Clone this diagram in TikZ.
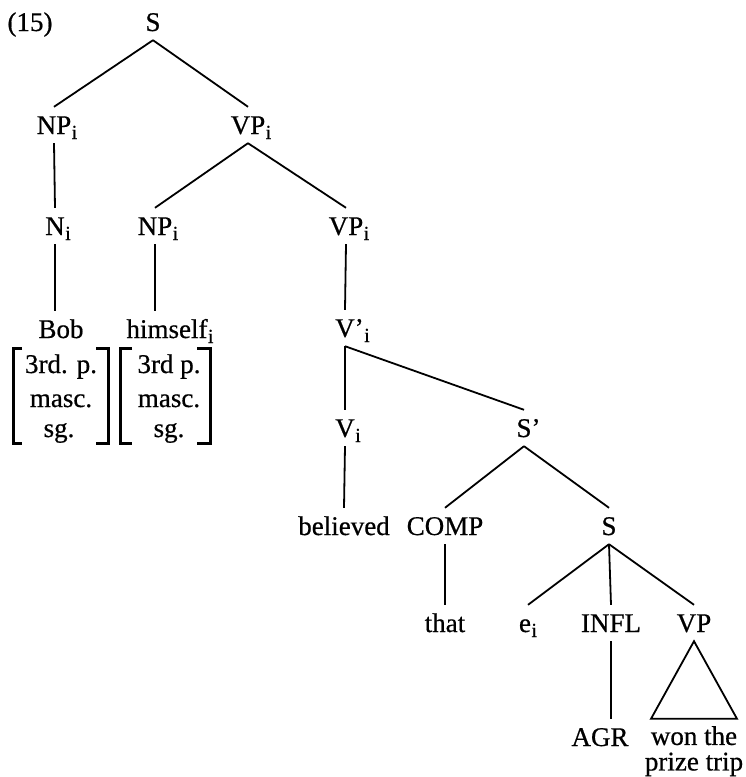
\documentclass[tikz,border=0pt]{standalone}
\usepackage{fontspec}
\setmainfont{Liberation Serif}[FakeBold=0.6]
\newcommand\ixs{\kern0.5pt\raisebox{-5pt}{\fontsize{20}{20}\selectfont i}}
\begin{document}
\begin{tikzpicture}[x=1pt,y=-1pt,
  lab/.style={inner sep=0pt, anchor=base, text height=27pt, text depth=9pt, font=\fontsize{27}{30}\selectfont},
  edge/.style={line width=1.8pt},
  brk/.style={line width=3pt}]
\useasboundingbox (0,0) rectangle (746,777);
\node[lab] (n15) at (30,31) {(15)};
\node[lab] (S0) at (153,31) {S};
\node[lab] (NP1) at (54,134) {NP\rlap{\ixs}};
\node[lab] (VP1) at (248,134) {VP\rlap{\ixs}};
\node[lab] (N1) at (55,235) {N\rlap{\ixs}};
\node[lab] (NP2) at (155,235) {NP\rlap{\ixs}};
\node[lab] (VP2) at (346,235) {VP\rlap{\ixs}};
\node[lab] (Bob) at (61,338) {Bob};
\node[lab] (him) at (167,338) {himself\rlap{\ixs}};
\node[lab] (Vb1) at (345,337) {V\rlap{’\ixs}};
\node[lab] (V2) at (345,437) {V\rlap{\ixs}};
\node[lab] (Sb) at (524,437) {S\rlap{’}};
\node[lab] (bel) at (344,535) {believed};
\node[lab] (COMP) at (445,535) {COMP};
\node[lab] (S2) at (609,535) {S};
\node[lab] (that) at (445,632) {that};
\node[lab] (e) at (528,632) {e\ixs};
\node[lab] (INFL) at (611,632) {INFL};
\node[lab] (VP3) at (694,632) {VP};
\node[lab] (AGR) at (600,746) {AGR};
\node[inner sep=0pt, anchor=north, align=center, font=\fontsize{27}{25.5}\selectfont] (won) at (694,726) {won the\\prize trip};
% feature matrices
\node[lab] (f1a) at (61,373) {3rd. p.};
\node[lab] (f1b) at (61,407) {masc.};
\node[lab] (f1c) at (59,437) {sg.};
\node[lab] (f2a) at (169,373) {3rd p.};
\node[lab] (f2b) at (169,407) {masc.};
\node[lab] (f2c) at (169,437) {sg.};
\draw[brk] (22,348) -- (13,348) -- (13,443) -- (22,443);
\draw[brk] (96,348) -- (108,348) -- (108,443) -- (96,443);
\draw[brk] (132,348) -- (120,348) -- (120,443) -- (132,443);
\draw[brk] (197,348) -- (210,348) -- (210,443) -- (197,443);
% edges
\draw[edge] (S0.south) -- (NP1.north);
\draw[edge] (S0.south) -- (VP1.north);
\draw[edge] (NP1.south) -- (N1.north);
\draw[edge] (VP1.south) -- (NP2.north);
\draw[edge] (VP1.south) -- (VP2.north);
\draw[edge] (N1.south) -- (N1.south |- Bob.north);
\draw[edge] (NP2.south) -- (NP2.south |- him.north);
\draw[edge] (VP2.south) -- (Vb1.north);
\draw[edge] (Vb1.south) -- (V2.north);
\draw[edge] (Vb1.south) -- (Sb.north);
\draw[edge] (V2.south) -- (bel.north);
\draw[edge] (Sb.south) -- (COMP.north);
\draw[edge] (Sb.south) -- (S2.north);
\draw[edge] (COMP.south) -- (that.north);
\draw[edge] (S2.south) -- (e.north);
\draw[edge] (S2.south) -- (INFL.north);
\draw[edge] (S2.south) -- (VP3.north);
\draw[edge] (INFL.south) -- (INFL.south |- AGR.north);
\draw[edge] (VP3.south) -- ([xshift=-43pt]VP3.south |- AGR.north) -- ([xshift=43pt]VP3.south |- AGR.north) -- cycle;
\end{tikzpicture}
\end{document}
